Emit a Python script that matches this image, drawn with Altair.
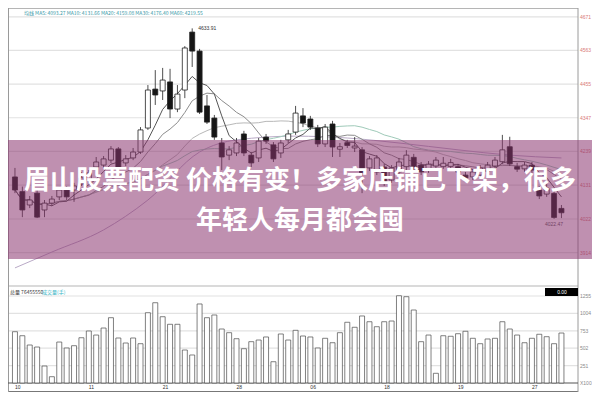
import altair as alt
import pandas as pd

# ---------------- data ----------------
opens = [4157,4110,4067,4105,4051,4073,4093,4115,4115,4134,
         4147,4189,4195,4211,4247,4202,4218,4237,4314,4439,
         4433,4462,4375,4436,4622,4561,4385,4346,4266,4227,
         4234,4295,4227,4218,4285,4260,4234,4276,4301,4353,
         4343,4314,4263,4327,4246,4267,4250,4244,4186,4173,
         4189,4147,4173,4190,4220,4195,4179,4192,4190,4191,
         4190,4163,4157,4163,4176,4192,4206,4254,4190,4183,
         4195,4115,4102,4104,4056]
closes = [4115,4051,4083,4028,4073,4086,4115,4093,4128,4154,
          4170,4205,4215,4247,4186,4215,4237,4308,4436,4420,
          4468,4375,4423,4571,4561,4365,4333,4285,4221,4244,
          4266,4234,4202,4272,4272,4215,4266,4295,4362,4330,
          4317,4263,4317,4253,4254,4258,4256,4170,4215,4218,
          4141,4186,4205,4227,4183,4173,4198,4211,4201,4203,
          4173,4154,4173,4186,4195,4211,4244,4199,4182,4195,
          4179,4096,4121,4027,4042]
highs = [4186,4126,4096,4115,4083,4096,4125,4128,4138,4173,
         4179,4221,4224,4256,4253,4227,4250,4317,4452,4500,
         4507,4504,4452,4577,4633.91,4568,4420,4356,4282,4256,
         4282,4305,4237,4282,4295,4269,4276,4308,4385,4378,
         4353,4324,4327,4337,4266,4276,4285,4253,4224,4227,
         4199,4195,4218,4243,4231,4205,4208,4221,4221,4215,
         4199,4173,4183,4195,4205,4221,4292,4286,4202,4205,
         4205,4128,4134,4115,4067]
lows = [4105,4028,4057,4025,4028,4064,4083,4083,4077,4128,
        4138,4179,4186,4202,4179,4192,4211,4231,4308,4388,
        4404,4346,4365,4410,4510,4359,4327,4276,4179,4211,
        4224,4224,4189,4205,4263,4205,4218,4266,4292,4317,
        4308,4253,4253,4221,4221,4250,4237,4105,4176,4163,
        4128,4138,4163,4179,4173,4163,4170,4183,4183,4183,
        4163,4144,4147,4154,4166,4183,4199,4192,4173,4173,
        4166,4086,4093,4022.47,4025]
volumes = [740,682,548,519,245,91,591,505,538,653,
           750,692,793,942,649,577,649,567,1014,1158,
           956,847,847,476,404,1140,942,981,779,726,
           639,495,596,620,664,307,707,620,760,678,
           664,505,645,581,726,876,804,967,884,812,
           884,894,1259,1245,1053,596,692,140,682,674,
           711,746,645,567,635,645,884,779,692,581,
           645,703,668,567,721]

ma60_idx = [0, 5, 12, 18, 25, 30, 38, 45, 52, 60, 67, 74]
ma60_val = [3865, 3916, 3987, 4083, 4237, 4276, 4288, 4282, 4266, 4244, 4227, 4218]

price_ticks = [4671, 4563, 4455, 4347, 4239, 4131, 4022, 3914]
price_tick_labels = ["4671", "4563", "4455", "4347", "4239", "4131", "4022", "3914"]
vol_ticks = [0, 251, 502, 753, 1004, 1255]
vol_tick_labels = ["X100", "251", "502", "753", "1004", "1255"]
date_idx = [0, 10, 20, 30, 40, 50, 60, 70]
date_labels = ["10", "11", "21", "28", "06", "18", "19", "27"]

ma_legend = "均线  MA5: 4093.27  MA10: 4131.66  MA20: 4159.08  MA30: 4176.40  MA60: 4219.55"
vol_title = "总量 76455550"
vol_tag = "成交量(手)"
high_label = "4633.91"
low_label = "4022.47"
title_line1 = "眉山股票配资 价格有变！多家店铺已下架，很多"
title_line2 = "年轻人每月都会囤"

# ---------------- tables ----------------
n = len(opens)
candles = pd.DataFrame({
    "i": list(range(n)),
    "open": opens, "close": closes, "high": highs, "low": lows,
    "vol": volumes, "base": [0] * n,
    "dir": ["up" if c >= o else "down" for o, c in zip(opens, closes)],
})
ma60 = pd.DataFrame({"i": ma60_idx, "v": ma60_val})
ptick = pd.DataFrame({"p": price_ticks, "lab": price_tick_labels})
vtick = pd.DataFrame({"v": vol_ticks, "lab": vol_tick_labels})
dates = pd.DataFrame({"i": date_idx, "lab": date_labels, "v": [0] * len(date_idx)})
hi_i = highs.index(max(highs))
lo_i = lows.index(min(lows[40:])) if min(lows[40:]) == min(lows) else lows.index(min(lows))
hilo = pd.DataFrame({"i": [hi_i, lo_i], "p": [highs[hi_i], lows[lo_i]],
                     "lab": [high_label, low_label]})
one = pd.DataFrame({"k": [0]})

W, H = 584, 384
RIGHT = 570
xs = alt.Scale(domain=[-0.266, 77.46], nice=False, zero=False)
ps = alt.Scale(domain=[3466.7, 4699.3], nice=False, zero=False)
vs = alt.Scale(domain=[-129.8, 5409.7], nice=False, zero=False)
X = alt.X("i:Q", scale=xs, axis=None)

def PY(f):
    return alt.Y(f, scale=ps, axis=None)

def VY(f):
    return alt.Y(f, scale=vs, axis=None)

base = alt.Chart(candles)

# grid lines
pgrid = alt.Chart(ptick).mark_rule(color="#e2e2e2", strokeWidth=1.2).encode(
    y=PY("p:Q"), x=alt.value(0), x2=alt.value(RIGHT))
vgrid = alt.Chart(vtick[vtick.v > 0]).mark_rule(color="#e2e2e2", strokeWidth=1.2).encode(
    y=VY("v:Q"), x=alt.value(0), x2=alt.value(RIGHT))
vbase = alt.Chart(vtick[vtick.v == 0]).mark_rule(color="#555555", strokeWidth=1.2).encode(
    y=VY("v:Q"), x=alt.value(0), x2=alt.value(RIGHT))

# frame lines
def hline(y, color="#b5b5b5", w=1.0):
    return alt.Chart(one).mark_rule(color=color, strokeWidth=w).encode(
        y=alt.value(y), x=alt.value(0), x2=alt.value(RIGHT))

def vline(x, color="#9a9a9a", w=1.0):
    return alt.Chart(one).mark_rule(color=color, strokeWidth=w).encode(
        x=alt.value(x), y=alt.value(0), y2=alt.value(H))

frames = [hline(0.5), hline(278), hline(383.5, "#777777"), vline(0.5), vline(RIGHT)]

# volume bars
vbars = base.mark_bar(size=5, fill="white", stroke="#4a4a4a", strokeWidth=0.7).encode(
    x=X, y=VY("vol:Q"), y2="base:Q")

# moving averages
def ma(win, color, w=1.0):
    return base.transform_window(
        m=f"mean(close)", frame=[-(win - 1), 0], sort=[alt.SortField("i")]
    ).mark_line(color=color, strokeWidth=w).encode(x=X, y=PY("m:Q"))

ma_lines = [ma(30, "#9fcab9"), ma(20, "#b8b8b8"), ma(10, "#8c8c8c"), ma(5, "#555555")]
ma60_line = alt.Chart(ma60).mark_line(color="#b9a9c6", strokeWidth=1.0, interpolate="monotone").encode(
    x=X, y=PY("v:Q"))

# candles
wicks = base.mark_rule(color="#222222", strokeWidth=0.8).encode(
    x=X, y=PY("high:Q"), y2="low:Q")
bodies = base.mark_bar(size=5, stroke="#222222", strokeWidth=0.8).encode(
    x=X, y=PY("open:Q"), y2="close:Q",
    fill=alt.Fill("dir:N", scale=alt.Scale(domain=["up", "down"], range=["white", "#151515"]),
                  legend=None))

# labels
plabels = alt.Chart(ptick).mark_text(align="left", baseline="middle", fontSize=5,
                                     color="#d97a7a", font="Liberation Sans").encode(
    y=PY("p:Q"), x=alt.value(RIGHT + 2), text="lab:N")
vlabels = alt.Chart(vtick).mark_text(align="left", baseline="middle", fontSize=5,
                                     color="#8a8a8a", font="Liberation Sans").encode(
    y=VY("v:Q"), x=alt.value(RIGHT + 2), text="lab:N")
dlabels = alt.Chart(dates).mark_text(align="left", baseline="top", fontSize=5, dy=2,
                                     color="#333333", font="Liberation Sans").encode(
    x=X, y=VY("v:Q"), text="lab:N")
hilo_text = alt.Chart(hilo.iloc[[0]]).mark_text(align="left", baseline="middle", dx=6, fontSize=5,
                                                color="#333333", font="Liberation Sans").encode(
    x=X, y=PY("p:Q"), text="lab:N")
lo_text = alt.Chart(hilo.iloc[[1]]).mark_text(align="center", baseline="top", dy=3, fontSize=5,
                                              color="#555555", font="Liberation Sans").encode(
    x=X, y=PY("p:Q"), text="lab:N")

legend_txt = alt.Chart(one).mark_text(align="left", baseline="middle", fontSize=5,
                                      color="#3a9aa8", font="Noto Sans CJK SC").encode(
    x=alt.value(16), y=alt.value(5), text=alt.value(ma_legend))
vt1 = alt.Chart(one).mark_text(align="left", baseline="middle", fontSize=5,
                               color="#333333", font="Noto Sans CJK SC").encode(
    x=alt.value(2), y=alt.value(284), text=alt.value(vol_title))
vt2 = alt.Chart(one).mark_text(align="left", baseline="middle", fontSize=5,
                               color="#2fb3c4", font="Noto Sans CJK SC").encode(
    x=alt.value(34), y=alt.value(284), text=alt.value(vol_tag))
blackbox = alt.Chart(one).mark_rect(color="#000000").encode(
    x=alt.value(RIGHT - 33), x2=alt.value(RIGHT), y=alt.value(280), y2=alt.value(288))
blacktxt = alt.Chart(one).mark_text(align="center", baseline="middle", fontSize=5,
                                    color="white", font="Liberation Sans").encode(
    x=alt.value(RIGHT - 16), y=alt.value(284), text=alt.value("0.00"))

# banner overlay
banner = alt.Chart(one).mark_rect(color="#8a3570", opacity=0.55).encode(
    x=alt.value(0), x2=alt.value(W), y=alt.value(132), y2=alt.value(251))
t1 = alt.Chart(one).mark_text(align="center", baseline="middle", fontSize=26, fontWeight="bold",
                              color="white", font="Noto Sans CJK SC").encode(
    x=alt.value(292), y=alt.value(173), text=alt.value(title_line1))
t2 = alt.Chart(one).mark_text(align="center", baseline="middle", fontSize=26, fontWeight="bold",
                              color="white", font="Noto Sans CJK SC").encode(
    x=alt.value(292), y=alt.value(213), text=alt.value(title_line2))

layers = [pgrid, vgrid] + frames + [vbase, vbars, ma60_line] + ma_lines + [
    wicks, bodies, plabels, vlabels, dlabels, hilo_text, lo_text,
    legend_txt, vt1, vt2, blackbox, blacktxt, banner, t1, t2]

chart = alt.layer(*layers).resolve_scale(y="independent").properties(
    width=W, height=H, autosize=alt.AutoSizeParams(type="none"), padding=0,
    background="white"
).configure_view(stroke=None)

chart.save("out.html", embed_options={"renderer": "svg", "actions": False})
